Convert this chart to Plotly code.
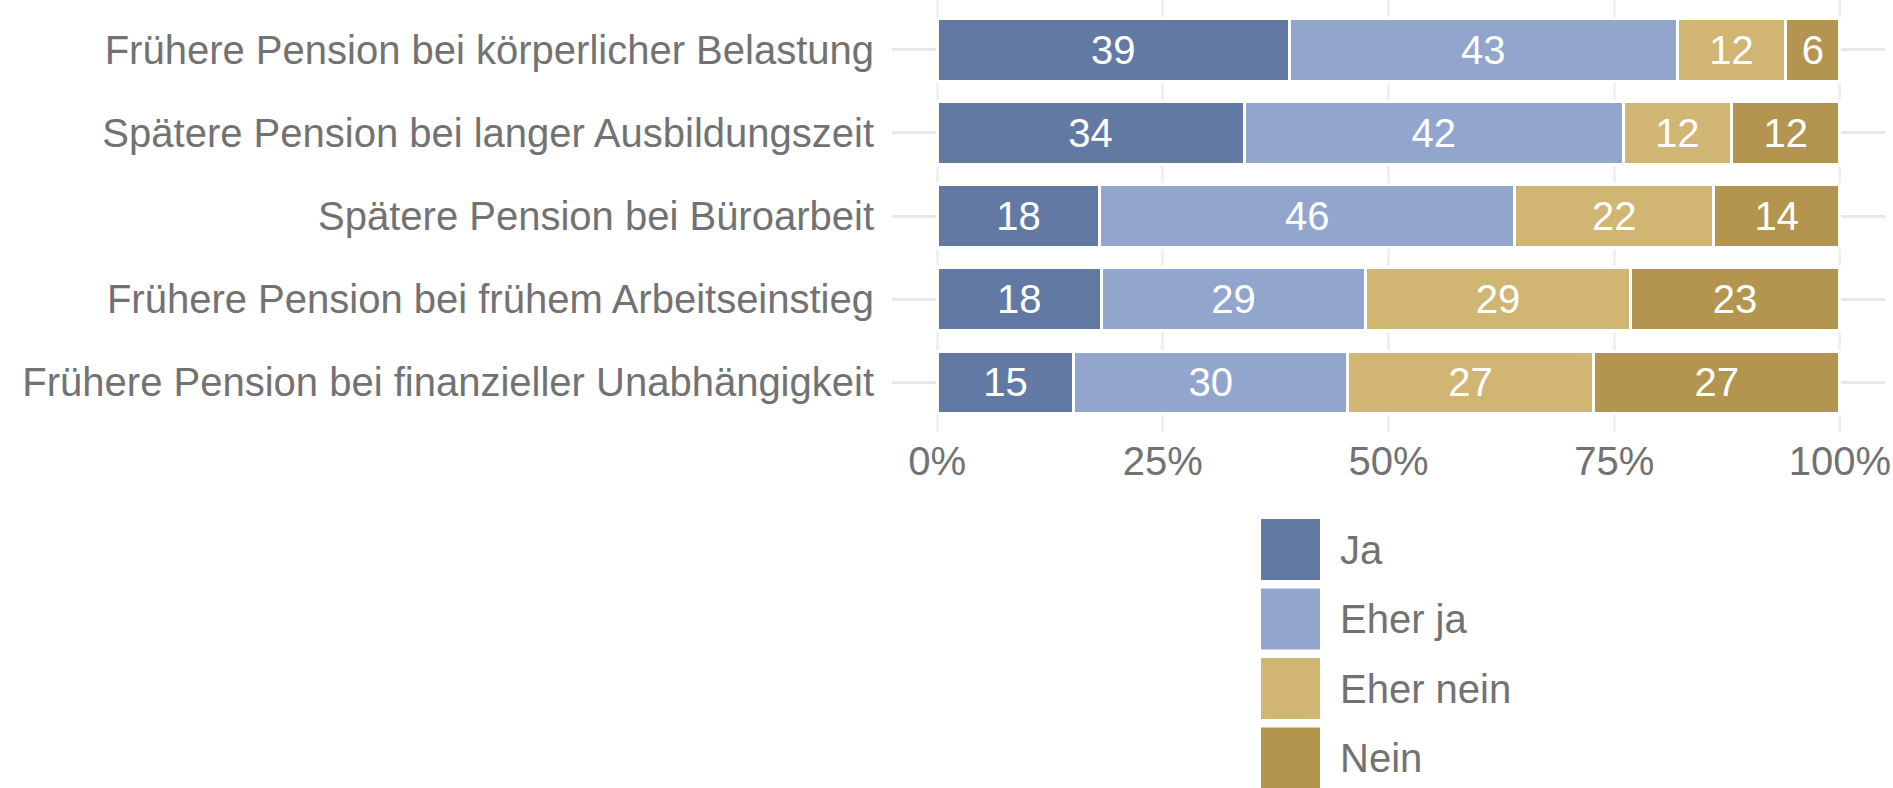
import plotly.graph_objects as go

categories = [
    "Frühere Pension bei körperlicher Belastung",
    "Spätere Pension bei langer Ausbildungszeit",
    "Spätere Pension bei Büroarbeit",
    "Frühere Pension bei frühem Arbeitseinstieg",
    "Frühere Pension bei finanzieller Unabhängigkeit",
]
series_names = ["Ja", "Eher ja", "Eher nein", "Nein"]
ja = [39, 34, 18, 18, 15]
eher_ja = [43, 42, 46, 29, 30]
eher_nein = [12, 12, 22, 29, 27]
nein = [6, 12, 14, 23, 27]
series_values = [ja, eher_ja, eher_nein, nein]
colors = ["#627AA3", "#92A6CD", "#D1B573", "#B3954F"]
x_tickvals = [0, 25, 50, 75, 100]
x_ticktext = ["0%", "25%", "50%", "75%", "100%"]

FONT = "Liberation Sans, Arial, sans-serif"
TXT = "#727272"
W, H = 1893, 788
ML, MR, MT, MB = 892, 8, 0, 356

totals = [sum(v[i] for v in series_values) for i in range(len(categories))]

fig = go.Figure()
for name, vals, col in zip(series_names, series_values, colors):
    fig.add_trace(go.Bar(
        y=categories,
        x=[v / t * 100 for v, t in zip(vals, totals)],
        orientation="h",
        name=name,
        marker=dict(color=col, line=dict(color="white", width=3)),
        text=[str(v) for v in vals],
        textposition="inside",
        insidetextanchor="middle",
        textangle=0,
        constraintext="none",
        textfont=dict(color="white", size=40, family=FONT),
        showlegend=False,
        hoverinfo="skip",
    ))

fig.update_layout(
    width=W, height=H,
    margin=dict(l=ML, r=MR, t=MT, b=MB),
    barmode="stack",
    bargap=0.25,
    plot_bgcolor="white",
    paper_bgcolor="white",
    font=dict(family=FONT, color=TXT, size=40),
    xaxis=dict(
        range=[-5, 105],
        tickvals=x_tickvals,
        ticktext=x_ticktext,
        showgrid=True, gridcolor="#f0f0f0", gridwidth=2.5,
        zeroline=False, showline=False,
        tickfont=dict(size=40, color=TXT),
        ticklabelstandoff=2,
    ),
    yaxis=dict(
        type="category",
        categoryorder="array",
        categoryarray=categories,
        range=[4.6, -0.6],
        showgrid=True, gridcolor="#e9e9e9", gridwidth=3,
        zeroline=False, showline=False,
        tickfont=dict(size=40, color=TXT),
        ticklabelstandoff=17,
    ),
)

# Legend drawn with large key boxes
pw = W - ML - MR
ph = H - MT - MB
def px_x(px):
    return (px - ML) / pw
def px_y(py):
    return (H - MB - py) / ph

box_x0, box_x1 = 1261, 1320
top0, pitch, bh = 519, 69.5, 61
shapes = []
annotations = []
for i, (name, col) in enumerate(zip(series_names, colors)):
    t = top0 + i * pitch
    shapes.append(dict(type="rect", xref="paper", yref="paper",
                       x0=px_x(box_x0), x1=px_x(box_x1),
                       y0=px_y(t + bh), y1=px_y(t),
                       fillcolor=col, line=dict(width=0)))
    annotations.append(dict(xref="paper", yref="paper",
                            x=px_x(1338), y=px_y(t + bh / 2),
                            xanchor="left", yanchor="middle",
                            text=name, showarrow=False,
                            font=dict(size=40, color=TXT, family=FONT)))
fig.update_layout(shapes=shapes, annotations=annotations)

fig.write_html("out.html", config={"displayModeBar": False},
               post_script="document.body.style.margin='0';")
